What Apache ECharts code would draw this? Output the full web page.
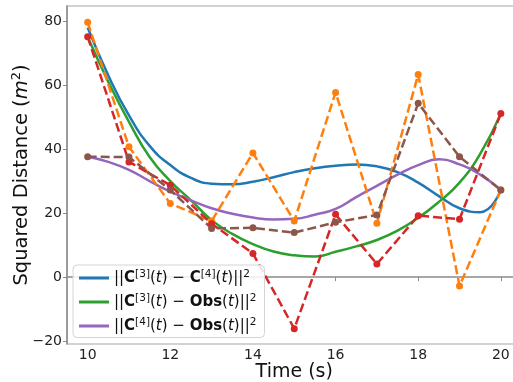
<!DOCTYPE html>
<html>
<head>
<meta charset="utf-8">
<script src="https://cdn.jsdelivr.net/npm/echarts@6/dist/echarts.min.js"></script>
<style>html,body{margin:0;padding:0;background:#fff;}#c{width:513px;height:382px;}</style>
</head>
<body>
<div id="c"></div>
<script>
// Sample times (dashed series)
const times = [10, 11, 12, 13, 14, 15, 16, 17, 18, 19, 20];
const orangeVals = [79.6, 40.7, 23.0, 17.5, 38.8, 17.5, 57.7, 16.8, 63.3, -2.8, 27.2];
const redVals    = [75.1, 36.0, 28.7, 16.7, 7.4, -16.1, 19.6, 4.1, 19.2, 18.1, 51.1];
const brownVals  = [37.6, 37.5, 27.2, 15.2, 15.4, 13.9, 17.1, 19.4, 54.3, 37.6, 27.2];

// Smooth curves read at half-steps
const smoothT = [10, 10.5, 11, 11.5, 12, 12.5, 13, 13.5, 14, 14.5, 15, 15.5, 16, 16.5, 17, 17.5, 18, 18.5, 19, 19.5, 20];
const blueVals   = [78, 63, 50.5, 41, 35, 31, 29.2, 29, 29.8, 31.2, 32.8, 34, 34.8, 35.2, 34.6, 32.8, 29.5, 25.3, 21.5, 20.3, 27.2];
const greenVals  = [75, 61, 48.5, 37.5, 30, 24, 17.8, 13.5, 10.3, 8, 6.8, 6.4, 7.9, 9.6, 11.6, 14.5, 18.5, 23.5, 29.5, 38.5, 51];
const purpleVals = [37.6, 36, 33.5, 30, 26.7, 24, 21.5, 19.8, 18.6, 18, 18.2, 19.5, 21.3, 25, 28.5, 32, 35, 36.8, 35.2, 32, 27.2];

const xTicks = [10, 12, 14, 16, 18, 20];
const yTicks = [-20, 0, 20, 40, 60, 80];

const FONT = 'DejaVu Sans';
const pair = (xs, ys) => xs.map((x, i) => [x, ys[i]]);
const fmtNum = v => (v < 0 ? '\u2212' + Math.abs(v) : String(v));

const legendRich = {
  n: { fontFamily: FONT, fontSize: 15, color: '#111' },
  b: { fontFamily: FONT, fontSize: 15, fontWeight: 'bold', color: '#111' },
  i: { fontFamily: FONT, fontSize: 15, fontStyle: 'italic', color: '#111' },
  s: { fontFamily: FONT, fontSize: 10.5, color: '#111', padding: [0, 0, 7, 0] }
};
const legendText = {
  blue:   '{n|||}{b|C}{s|[3]}{n|(}{i|t}{n|) − }{b|C}{s|[4]}{n|(}{i|t}{n|)||}{s|2}',
  green:  '{n|||}{b|C}{s|[3]}{n|(}{i|t}{n|) − }{b|Obs}{n|(}{i|t}{n|)||}{s|2}',
  purple: '{n|||}{b|C}{s|[4]}{n|(}{i|t}{n|) − }{b|Obs}{n|(}{i|t}{n|)||}{s|2}'
};

function smoothSeries(name, data, color) {
  return { name, type: 'line', data, smooth: 0.5, symbol: 'none', showSymbol: false,
    lineStyle: { color, width: 2.5 }, itemStyle: { color }, z: 2 };
}
function dashedSeries(name, data, color) {
  return { name, type: 'line', data, symbol: 'circle', symbolSize: 7, showSymbol: true,
    lineStyle: { color, width: 2.5, type: [9, 4] }, itemStyle: { color }, z: 3 };
}

const chart = echarts.init(document.getElementById('c'), null, { renderer: 'canvas' });
chart.setOption({
  animation: false,
  backgroundColor: '#fff',
  grid: { left: 67, top: 6, width: 454.5, height: 338, containLabel: false, outerBoundsMode: 'none',
    show: true, borderColor: '#c4c4c4', borderWidth: 1.5, backgroundColor: 'transparent' },
  legend: {
    data: [
      { name: 'blue', icon: 'rect', itemStyle: { color: '#1f77b4' } },
      { name: 'green', icon: 'rect', itemStyle: { color: '#2ca02c' } },
      { name: 'purple', icon: 'rect', itemStyle: { color: '#9467bd' } }
    ],
    orient: 'vertical', left: 73, top: 265,
    itemWidth: 30, itemHeight: 3, itemGap: 7.5,
    padding: [4, 8, 4, 6],
    borderColor: '#d4d4d4', borderWidth: 1, borderRadius: 4,
    backgroundColor: 'rgba(255,255,255,0.85)',
    formatter: n => legendText[n],
    textStyle: { rich: legendRich }
  },
  xAxis: {
    type: 'value', min: 9.5, max: 20.5,
    name: 'Time (s)', nameLocation: 'middle', nameGap: 19, nameMoveOverlap: false,
    nameTextStyle: { fontFamily: FONT, fontSize: 19, color: '#111', verticalAlign: 'top' },
    splitLine: { show: false },
    axisLine: { lineStyle: { color: '#8a8a8a', width: 1.5 } },
    axisTick: { show: true, length: 4, lineStyle: { color: '#8a8a8a' }, customValues: xTicks },
    axisLabel: { fontFamily: FONT, fontSize: 14, color: '#222', margin: 4, customValues: xTicks, formatter: fmtNum }
  },
  yAxis: {
    type: 'value', min: -20.9, max: 84.7,
    name: '{n|Squared Distance (}{i|m}{s|2}{n|)}', nameLocation: 'middle', nameGap: 33, nameRotate: 90,
    nameMoveOverlap: false,
    nameTextStyle: {
      rich: {
        n: { fontFamily: FONT, fontSize: 19.5, color: '#111' },
        i: { fontFamily: FONT, fontSize: 19.5, fontStyle: 'italic', color: '#111' },
        s: { fontFamily: FONT, fontSize: 13, color: '#111', padding: [0, 0, 11, 0] }
      }
    },
    splitLine: { show: false },
    axisLine: { show: true, lineStyle: { color: '#8a8a8a', width: 1.5 } },
    axisTick: { show: true, length: 4, lineStyle: { color: '#8a8a8a' }, customValues: yTicks },
    axisLabel: { fontFamily: FONT, fontSize: 14, color: '#222', margin: 5, customValues: yTicks, formatter: fmtNum }
  },
  series: [
    smoothSeries('blue', pair(smoothT, blueVals), '#1f77b4'),
    smoothSeries('green', pair(smoothT, greenVals), '#2ca02c'),
    smoothSeries('purple', pair(smoothT, purpleVals), '#9467bd'),
    dashedSeries('orange', pair(times, orangeVals), '#ff7f0e'),
    dashedSeries('red', pair(times, redVals), '#d62728'),
    dashedSeries('brown', pair(times, brownVals), '#8c564b')
  ]
});
</script>
</body>
</html>
